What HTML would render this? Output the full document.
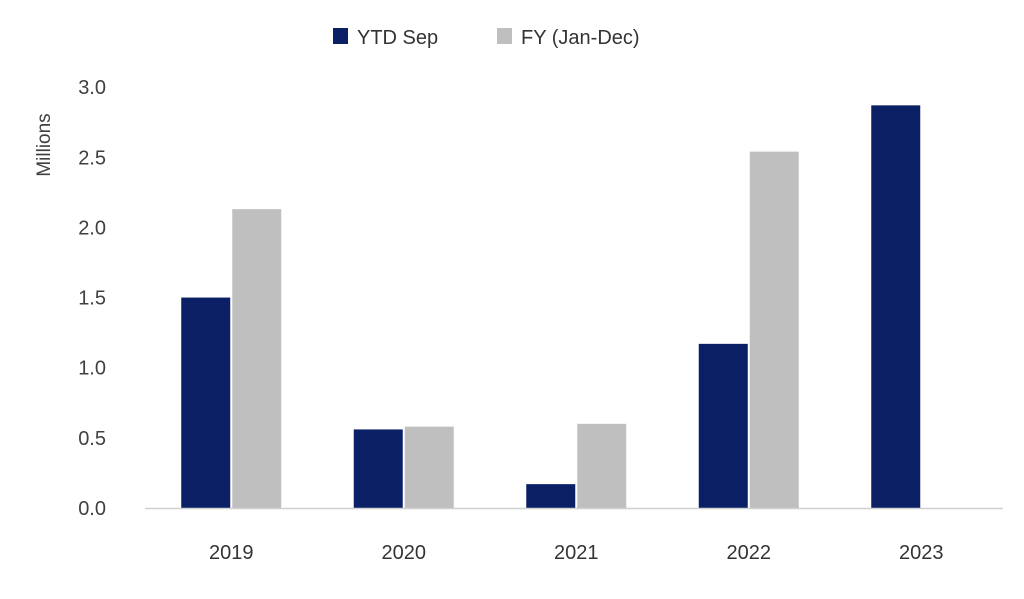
<!DOCTYPE html>
<html><head><meta charset="utf-8"><style>
body{margin:0;background:#fff;}
svg{display:block;font-family:"Liberation Sans",sans-serif;}
</style></head><body>
<svg id="chart" width="1024" height="599">
<g>
<rect x="333" y="28" width="15" height="16" fill="#0b1f65"/>
<text x="357" y="44" font-size="20" fill="#333">YTD Sep</text>
<rect x="497" y="28" width="15" height="16" fill="#bfbfbf"/>
<text x="521" y="44" font-size="20" fill="#333">FY (Jan-Dec)</text>
</g>
<text transform="translate(50,145) rotate(-90)" text-anchor="middle" font-size="19" fill="#404040">Millions</text>
<g id="yticks"></g><g id="bars"></g><g id="xlabels"></g>
<line x1="145" y1="508.5" x2="1003" y2="508.5" stroke="#d0d0d0" stroke-width="1.5"/>
</svg>
<script>
const categories=["2019","2020","2021","2022","2023"];
const ytdValues=[1.50,0.56,0.17,1.17,2.87];
const fyValues=[2.13,0.58,0.60,2.54,null];
const yTicks=[0,0.5,1,1.5,2,2.5,3];
const yTickLabels=["0.0","0.5","1.0","1.5","2.0","2.5","3.0"];
const NS="http://www.w3.org/2000/svg";
const y0=508,pxPer=140.3,xStart=145,band=172.5,bw=49;
const y=v=>y0-v*pxPer;
const xc=i=>xStart+band*(i+0.5);
function mk(tag,attrs,parent){const e=document.createElementNS(NS,tag);for(const k in attrs)e.setAttribute(k,attrs[k]);document.getElementById(parent).appendChild(e);return e;}
yTicks.forEach((t,i)=>{const e=mk('text',{x:106,y:y(t)+7,'text-anchor':'end','font-size':20,fill:'#404040'},'yticks');e.textContent=yTickLabels[i];

});
categories.forEach((c,i)=>{
 const cx=xc(i);
 if(ytdValues[i]!=null){const r=mk('rect',{x:cx-bw-1,y:y(ytdValues[i]),width:bw,height:ytdValues[i]*pxPer,fill:'#0b1f65'},'bars');
 
 }
 if(fyValues[i]!=null){const r=mk('rect',{x:cx+1,y:y(fyValues[i]),width:bw,height:fyValues[i]*pxPer,fill:'#bfbfbf'},'bars');
 
 }
 const t=mk('text',{x:cx,y:559,'text-anchor':'middle','font-size':20,fill:'#333'},'xlabels');t.textContent=c;
 
 
});
</script>
</body></html>
